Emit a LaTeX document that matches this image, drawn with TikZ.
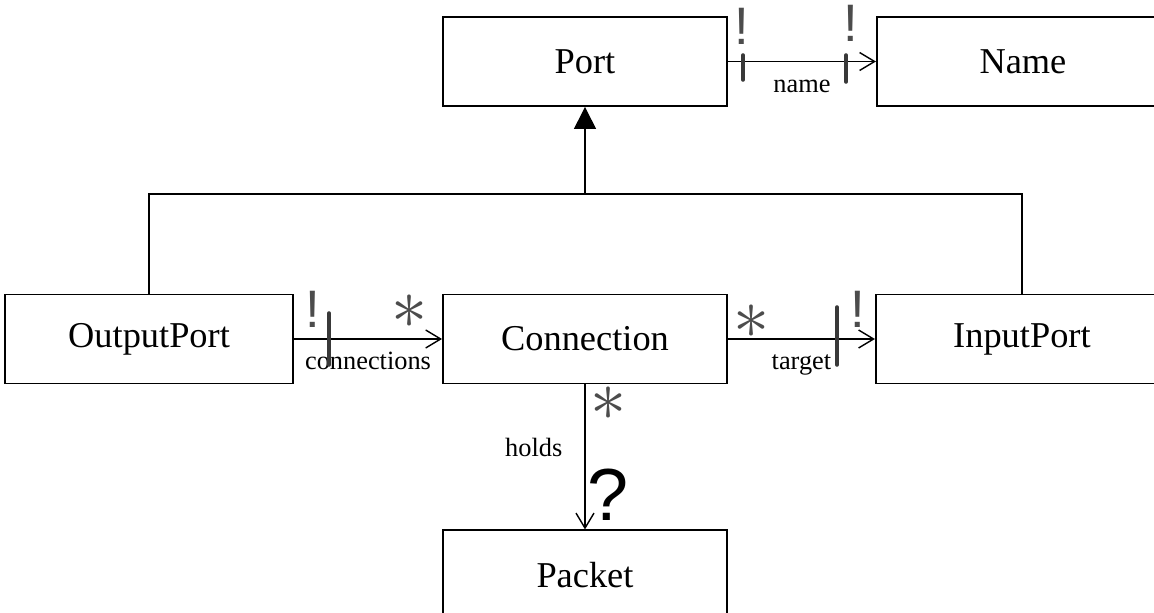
\documentclass[tikz,border=0pt]{standalone}
\usepackage{fontspec}
\setmainfont{Liberation Serif}
\newfontfamily\handfont{Liberation Sans}
\usetikzlibrary{positioning, arrows.meta}
\newcommand{\handstar}{\scalebox{1.65}{$\ast$}}

\begin{document}
\begin{tikzpicture}[
  x=0.2mm, y=-0.2mm,
  every node/.style={font=\fontsize{20.7}{24}\selectfont},
  cls/.style    = {draw, line width=1.1pt, minimum width=5.68cm, minimum height=1.78cm, inner sep=0pt},
  widecls/.style= {cls, minimum width=5.84cm},
  assoc/.style  = {-{Straight Barb[length=3mm, width=3.6mm]}, line width=0.8pt},
  inherit/.style= {-{Triangle[length=4.4mm, width=4.4mm]}, line width=0.8pt},
  rolefont/.style = {font=\fontsize{15}{18}\selectfont, inner sep=0pt},
  role/.style   = {rolefont, anchor=base, yshift=-0.62cm},
  bang/.style   = {font=\handfont\fontsize{30}{30}\selectfont, gray!60!black, inner sep=0pt},
  many/.style   = {font=\fontsize{24.88}{26}\selectfont, gray!60!black, inner sep=0pt},
  tick/.style   = {line width=2pt, gray!45!black, line cap=round},
]
  \useasboundingbox (0,0) rectangle (1154,613);

  % classes
  \node[cls] (port) at (585,61.5) {Port};
  \node[widecls, right=2.96cm of port] (name) {Name};
  \node[cls] (conn) at (585,339) {Connection};
  \node[cls, minimum width=5.76cm, left=2.96cm of conn] (outport) {OutputPort};
  \node[widecls, right=2.94cm of conn] (inport) {InputPort};
  \node[cls, below=2.9cm of conn] (packet) {Packet};

  % generalisation
  \coordinate (fork) at (585,194);
  \draw[line width=0.8pt] (outport.north) |- (fork) -| (inport.north);
  \draw[inherit] (fork) -- (port.south);

  % associations
  \draw[assoc] (port) -- node[role] {name} (name);
  \draw[assoc] (outport) -- node[role] {connections} (conn);
  \draw[assoc] (conn) -- node[role] {target} (inport);
  \draw[assoc] (conn) -- node[rolefont, anchor=base east, xshift=-0.44cm] {holds} (packet);

  % hand-written multiplicities
  \node[bang] (m1) at (742,26) {!};
  \node[bang] (m2) at (851,23) {!};
  \node[bang] (m3) at (313,309) {!};
  \node[bang] (m4) at (858,309) {!};
  \node[many] (s1) at (410,312) {\handstar};
  \node[many] (s2) at (752,322) {\handstar};
  \node[many] (s3) at (609,404) {\handstar};
  \node[font=\handfont\fontsize{42}{42}\selectfont] (q1) at (608,495) {?};
  \foreach \x/\ya/\yb in {743/55/80, 846/55/82, 329/313/365, 837/307/365}
    \draw[tick] (\x,\ya) -- (\x,\yb);
\end{tikzpicture}
\end{document}
